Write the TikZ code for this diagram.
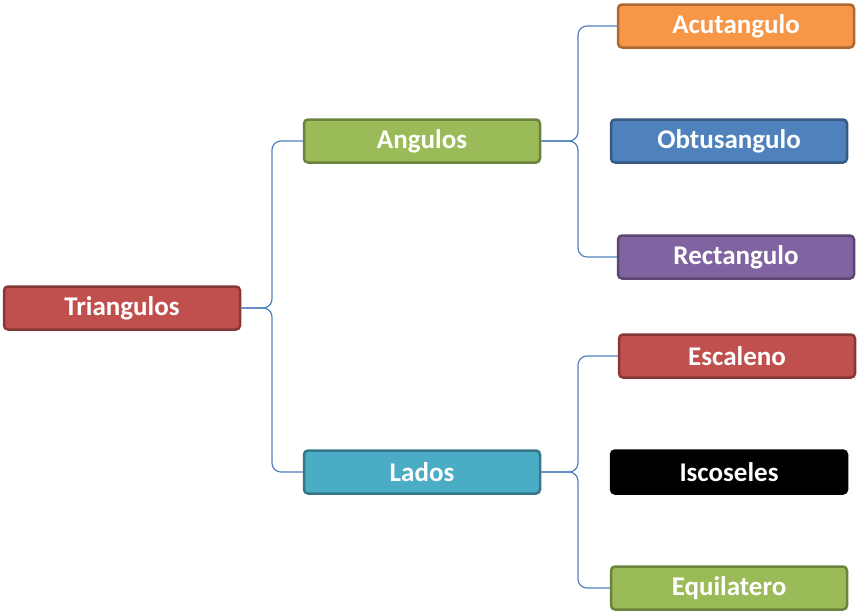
\documentclass[tikz,border=0pt]{standalone}
\usepackage{fontspec}
\setmainfont{Carlito}
\begin{document}
\begin{tikzpicture}[x=1pt,y=-1pt,
  box/.style={draw=#1!70!black,fill=#1,line width=2.5pt,rounded corners=4pt,minimum width=236pt,minimum height=43pt,text=white,font=\fontsize{27}{30}\selectfont\bfseries,inner sep=0pt},
  link/.style={draw=linkc,line width=1.2pt,rounded corners=9pt}]
\definecolor{cred}{HTML}{C0504D}\definecolor{cgreen}{HTML}{9BBB59}\definecolor{cteal}{HTML}{4BACC6}
\definecolor{corange}{HTML}{F79646}\definecolor{cblue}{HTML}{4F81BD}\definecolor{cpurple}{HTML}{8064A2}
\definecolor{linkc}{HTML}{4F81BD}
\useasboundingbox (0,0) rectangle (858,613);
\node[box=cred] (tri) at (122,308) {Triangulos};
\node[box=cgreen] (ang) at (422,141) {Angulos};
\node[box=cteal] (lad) at (422,472) {Lados};
\node[box=corange] (acu) at (736,26) {Acutangulo};
\node[box=cblue] (obt) at (729,141) {Obtusangulo};
\node[box=cpurple] (rec) at (736,257) {Rectangulo};
\node[box=cred] (esc) at (737,356) {Escaleno};
\node[box=black,draw=black] (isc) at (729,472) {Iscoseles};
\node[box=cgreen] (equ) at (729,588) {Equilatero};
\coordinate (b1) at (272,308);
\coordinate (b2) at (578,141);
\coordinate (b3) at (578,472);
\draw[link] (tri.east) -- (b1) |- (ang.west);
\draw[link] (tri.east) -- (b1) |- (lad.west);
\draw[link] (ang.east) -- (b2) |- (acu.west);
\draw[link] (ang.east) -- (b2) |- (rec.west);
\draw[link] (lad.east) -- (b3) |- (esc.west);
\draw[link] (lad.east) -- (b3) |- (equ.west);
\end{tikzpicture}
\end{document}
